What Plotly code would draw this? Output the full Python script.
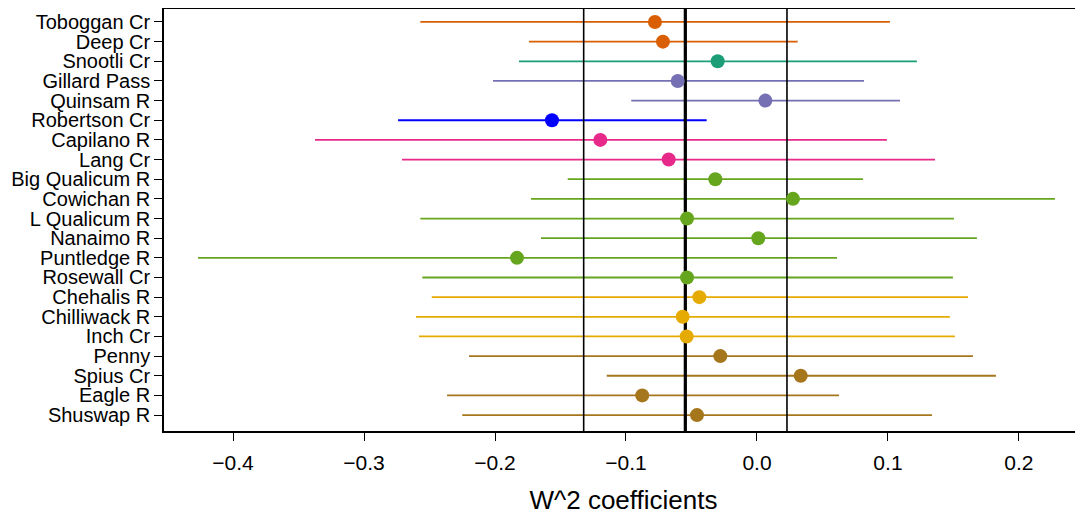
import plotly.graph_objects as go

sites = ["Toboggan Cr", "Deep Cr", "Snootli Cr", "Gillard Pass", "Quinsam R",
         "Robertson Cr", "Capilano R", "Lang Cr", "Big Qualicum R", "Cowichan R",
         "L Qualicum R", "Nanaimo R", "Puntledge R", "Rosewall Cr", "Chehalis R",
         "Chilliwack R", "Inch Cr", "Penny", "Spius Cr", "Eagle R", "Shuswap R"]
estimate = [-0.0779, -0.0718, -0.0300, -0.0605, 0.0064,
            -0.1565, -0.1196, -0.0674, -0.0318, 0.0275,
            -0.0534, 0.0010, -0.1832, -0.0534, -0.0440,
            -0.0567, -0.0537, -0.0280, 0.0334, -0.0876, -0.0458]
lower = [-0.2570, -0.1740, -0.1817, -0.2015, -0.0960,
         -0.2740, -0.3374, -0.2710, -0.1445, -0.1725,
         -0.2570, -0.1649, -0.4267, -0.2555, -0.2483,
         -0.2603, -0.2580, -0.2198, -0.1147, -0.2366, -0.2250]
upper = [0.1015, 0.0311, 0.1221, 0.0817, 0.1092,
         -0.0384, 0.0992, 0.1359, 0.0809, 0.2275,
         0.1504, 0.1679, 0.0611, 0.1496, 0.1611,
         0.1473, 0.1511, 0.1649, 0.1824, 0.0626, 0.1336]
colors = ["#D95F02", "#D95F02", "#1B9E77", "#7570B3", "#7570B3",
          "#0000FF", "#E7298A", "#E7298A", "#66A61E", "#66A61E",
          "#66A61E", "#66A61E", "#66A61E", "#66A61E", "#E6AB02",
          "#E6AB02", "#E6AB02", "#A6761D", "#A6761D", "#A6761D", "#A6761D"]
# overall mean and interval (vertical reference lines)
ref_mean = -0.0547
ref_lo = -0.1323
ref_hi = 0.0229

x_ticks = [-0.4, -0.3, -0.2, -0.1, 0.0, 0.1, 0.2]
x_tick_text = ["\u22120.4", "\u22120.3", "\u22120.2", "\u22120.1", "0.0", "0.1", "0.2"]

FONT = "Liberation Sans, Arial, Helvetica, sans-serif"
n = len(sites)
ypos = list(range(n))
y_lo, y_hi = n - 1 + 0.81, -0.66

fig = go.Figure()
for i in range(n):
    fig.add_trace(go.Scatter(x=[lower[i], upper[i]], y=[ypos[i], ypos[i]], mode="lines",
                             line=dict(color=colors[i], width=1.8), showlegend=False,
                             hoverinfo="skip"))
for v, w in [(ref_lo, 1.6), (ref_mean, 3.2), (ref_hi, 1.6)]:
    fig.add_trace(go.Scatter(x=[v, v], y=[y_lo, y_hi], mode="lines",
                             line=dict(color="black", width=w), showlegend=False,
                             hoverinfo="skip"))
fig.add_trace(go.Scatter(x=estimate, y=ypos, mode="markers",
                         marker=dict(color=colors, size=14, line=dict(width=0)),
                         showlegend=False, text=sites))

fig.update_layout(
    width=1075, height=511,
    margin=dict(l=156, r=0, t=1, b=88),
    plot_bgcolor="white", paper_bgcolor="white",
    font=dict(family=FONT, color="black"),
    xaxis=dict(range=[-0.4527, 0.2489], tickvals=x_ticks, ticktext=x_tick_text,
               showgrid=False, zeroline=False, showline=True, linecolor="black",
               linewidth=1.6, mirror=True, ticks="outside", ticklen=8, tickwidth=1.3,
               tickcolor="black", tickfont=dict(size=21, family=FONT),
               ticklabelstandoff=4,
               title=dict(text="W^2 coefficients", font=dict(size=26, family=FONT),
                          standoff=18)),
    yaxis=dict(range=[y_lo, y_hi], tickvals=ypos, ticktext=sites,
               showgrid=False, zeroline=False, showline=True, linecolor="black",
               linewidth=1.6, ticks="outside", ticklen=8, tickwidth=1.3,
               tickcolor="black", tickfont=dict(size=20, family=FONT)),
)
fig.write_html("out.html")
